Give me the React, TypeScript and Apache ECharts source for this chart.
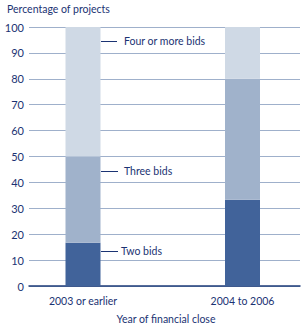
import React, { useEffect, useRef } from "react";
import * as echarts from "echarts";

const categories = ["2003 or earlier", "2004 to 2006"];
const twoBids = [16.7, 33.3];
const threeBids = [33.3, 46.7];
const fourOrMoreBids = [50, 20];

const TEXT = "#1b3373";
const FONT = "Lato, sans-serif";
const FS = 10.5;

export default function App() {
  const ref = useRef<HTMLDivElement>(null);
  useEffect(() => {
    const chart = echarts.init(ref.current!, undefined, { renderer: "svg" });
    const mk = (name: string, data: number[], color: string) => ({
      name,
      type: "bar",
      stack: "total",
      barWidth: 35,
      xAxisIndex: 1,
      yAxisIndex: 1,
      itemStyle: { color },
      data,
    });
    const ann = (label: string, y: number, x2: number, tx: number) => [
      { type: "line", shape: { x1: 101, y1: y + 0.5, x2, y2: y + 0.5 }, style: { stroke: TEXT, lineWidth: 1 } },
      {
        type: "text",
        x: tx,
        y,
        style: { text: label, fill: TEXT, font: `${FS}px ${FONT}`, textVerticalAlign: "middle" },
      },
    ];
    chart.setOption({
      animation: false,
      grid: [
        { left: 29, right: 5, top: 27, bottom: 41, outerBoundsMode: "none" },
        { left: 3.25, width: 319, top: 27, bottom: 41, outerBoundsMode: "none", containLabel: false },
      ],
      xAxis: [
        {
          type: "value",
          gridIndex: 0,
          min: 0,
          max: 1,
          axisLine: { show: true, onZero: false, lineStyle: { color: "#1f3d7a", width: 1.5 } },
          axisTick: { show: false },
          splitLine: { show: false },
          axisLabel: { show: false },
        },
        {
          type: "category",
          gridIndex: 1,
          data: categories,
          axisLine: { show: false },
          axisTick: { show: false },
          axisLabel: { color: TEXT, fontFamily: FONT, fontSize: FS, margin: 9 },
        },
      ],
      yAxis: [
        {
          type: "value",
          gridIndex: 0,
          min: 0,
          max: 100,
          interval: 10,
          axisLine: { show: false },
          axisTick: { show: false },
          splitLine: { lineStyle: { color: "#9fb0cb", width: 1 } },
          axisLabel: { color: TEXT, fontFamily: FONT, fontSize: 11, margin: 5 },
        },
        {
          type: "value",
          gridIndex: 1,
          min: 0,
          max: 100,
          show: false,
          splitLine: { show: false },
        },
      ],
      series: [
        mk("Two bids", twoBids, "#41639a"),
        mk("Three bids", threeBids, "#a0b2cb"),
        mk("Four or more bids", fourOrMoreBids, "#cfd9e5"),
      ],
      graphic: [
        {
          type: "text",
          x: 7,
          y: 9,
          style: { text: "Percentage of projects", fill: TEXT, font: `${FS}px ${FONT}`, textVerticalAlign: "middle" },
        },
        {
          type: "text",
          x: 166,
          y: 319,
          style: {
            text: "Year of financial close",
            fill: TEXT,
            font: `${FS}px ${FONT}`,
            textAlign: "center",
            textVerticalAlign: "middle",
          },
        },
        ...ann("Four or more bids", 41, 117, 124),
        ...ann("Three bids", 171, 118, 124),
        ...ann("Two bids", 251, 118, 121),
      ],
    });
    return () => chart.dispose();
  }, []);
  return (
    <div
      ref={ref}
      style={{ position: "absolute", left: 0, top: 0, width: 305, height: 327, background: "#fff" }}
    />
  );
}
